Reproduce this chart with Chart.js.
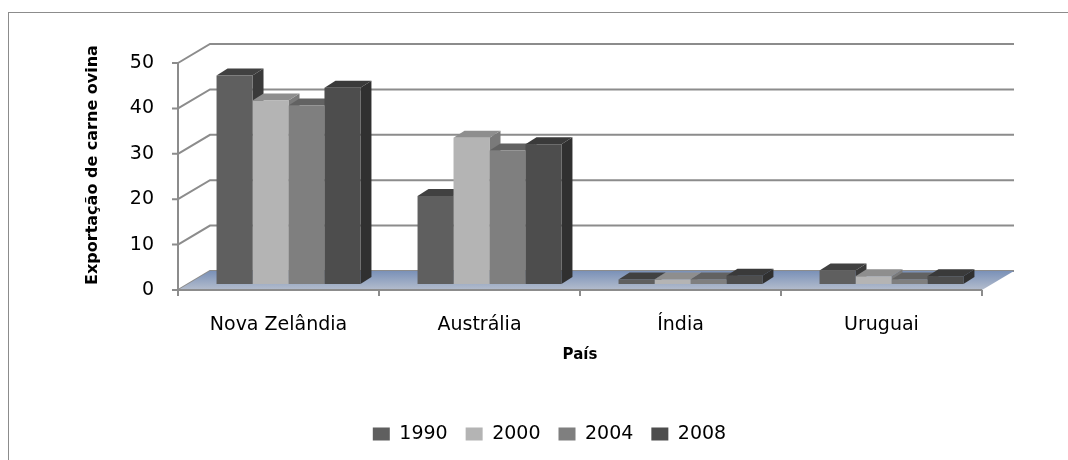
<!DOCTYPE html>
<html>
<head>
<meta charset="utf-8">
<script src="https://cdn.jsdelivr.net/npm/chart.js@4.4.0/dist/chart.umd.min.js"></script>
<style>
    html, body { margin: 0; padding: 0; background: #fff; }
    #wrap { position: relative; width: 1068px; height: 460px; overflow: hidden; }
    #frame { position: absolute; left: 8px; top: 12px; width: 1200px; height: 600px; border: 1px solid #8c8c8c; }
    canvas { position: absolute; left: 0; top: 0; }
</style>
</head>
<body>
<div id="wrap">
    <div id="frame"></div>
    <canvas id="chart" width="1068" height="460"></canvas>
</div>
<script>
// Data
const countries = ['Nova Zelândia', 'Austrália', 'Índia', 'Uruguai'];
const years = ['1990', '2000', '2004', '2008'];
const values1990 = [45.9, 19.4, 1.0, 3.0];
const values2000 = [40.4, 32.2, 1.0, 1.7];
const values2004 = [39.3, 29.4, 1.0, 1.0];
const values2008 = [43.2, 30.8, 1.8, 1.7];
const yTicks = [0, 10, 20, 30, 40, 50];

// Face colours per series: front, top, side
const frontColors = ['#5f5f5f', '#b4b4b4', '#7f7f7f', '#4d4d4d'];
const topColors = ['#414141', '#8e8e8e', '#626262', '#3a3a3a'];
const sideColors = ['#3a3a3a', '#7a7a7a', '#545454', '#303030'];

// Fake 3D offsets (bar plane -> front plane, bar plane -> back wall, bar depth)
const FRONT_DX = -10, FRONT_DY = 6;
const BACK_DX = 22, BACK_DY = -13;
const BAR_DX = 11, BAR_DY = -7;

// Draw walls, floor, axes and the side/top faces of the bars
const threeD = {
    id: 'threeD',
    beforeDatasetsDraw(chart) {
        const { ctx, chartArea, scales: { y } } = chart;
        const fL = chartArea.left + FRONT_DX, fR = chartArea.right + FRONT_DX;
        const bL = chartArea.left + BACK_DX, bR = chartArea.right + BACK_DX;
        const y0 = y.getPixelForValue(0);

        ctx.save();
        // back wall gridlines
        ctx.strokeStyle = '#8c8c8c';
        ctx.lineWidth = 2;
        yTicks.forEach(v => {
            const yb = y.getPixelForValue(v);
            ctx.beginPath();
            ctx.moveTo(fL, yb + FRONT_DY);
            ctx.lineTo(bL, yb + BACK_DY);
            ctx.lineTo(bR, yb + BACK_DY);
            ctx.stroke();
        });

        // floor
        const grad = ctx.createLinearGradient(0, y0 + BACK_DY, 0, y0 + FRONT_DY);
        grad.addColorStop(0, '#7a91b8');
        grad.addColorStop(1, '#b4bdcd');
        ctx.fillStyle = grad;
        ctx.beginPath();
        ctx.moveTo(fL, y0 + FRONT_DY);
        ctx.lineTo(fR, y0 + FRONT_DY);
        ctx.lineTo(bR, y0 + BACK_DY);
        ctx.lineTo(bL, y0 + BACK_DY);
        ctx.closePath();
        ctx.fill();

        // front value axis with ticks
        ctx.strokeStyle = '#8c8c8c';
        ctx.lineWidth = 2;
        ctx.beginPath();
        ctx.moveTo(fL, y.getPixelForValue(50) + FRONT_DY);
        ctx.lineTo(fL, y0 + FRONT_DY);
        yTicks.forEach(v => {
            const yf = y.getPixelForValue(v) + FRONT_DY;
            ctx.moveTo(fL - 6, yf);
            ctx.lineTo(fL, yf);
        });
        // front category axis with ticks
        ctx.moveTo(fL, y0 + FRONT_DY);
        ctx.lineTo(fR, y0 + FRONT_DY);
        for (let i = 0; i <= countries.length; i++) {
            const xf = fL + i * (fR - fL) / countries.length;
            ctx.moveTo(xf, y0 + FRONT_DY);
            ctx.lineTo(xf, y0 + FRONT_DY + 6);
        }
        ctx.stroke();

        // side faces first, then top faces; Chart.js draws the fronts afterwards
        const metas = chart.data.datasets.map((d, i) => chart.getDatasetMeta(i));
        metas.forEach((meta, di) => {
            meta.data.forEach(bar => {
                const r = bar.x + bar.width / 2;
                ctx.fillStyle = sideColors[di];
                ctx.beginPath();
                ctx.moveTo(r, bar.y);
                ctx.lineTo(r + BAR_DX, bar.y + BAR_DY);
                ctx.lineTo(r + BAR_DX, bar.base + BAR_DY);
                ctx.lineTo(r, bar.base);
                ctx.closePath();
                ctx.fill();
            });
        });
        metas.forEach((meta, di) => {
            meta.data.forEach(bar => {
                const l = bar.x - bar.width / 2, r = bar.x + bar.width / 2;
                ctx.fillStyle = topColors[di];
                ctx.beginPath();
                ctx.moveTo(l, bar.y);
                ctx.lineTo(r, bar.y);
                ctx.lineTo(r + BAR_DX, bar.y + BAR_DY);
                ctx.lineTo(l + BAR_DX, bar.y + BAR_DY);
                ctx.closePath();
                ctx.fill();
            });
        });
        ctx.restore();
    },
    afterDraw(chart) {
        // axis titles
        const { ctx, chartArea } = chart;
        ctx.save();
        ctx.fillStyle = '#000';
        ctx.textAlign = 'center';
        ctx.textBaseline = 'middle';
        ctx.font = 'bold 15px "DejaVu Sans"';
        ctx.fillText('País', (chartArea.left + chartArea.right) / 2 + FRONT_DX, 355);
        ctx.translate(93, 165);
        ctx.rotate(-Math.PI / 2);
        ctx.font = 'bold 16px "DejaVu Sans"';
        ctx.fillText('Exportação de carne ovina', 0, 0);
        ctx.restore();
    }
};

Chart.defaults.font.family = '"DejaVu Sans", sans-serif';
Chart.defaults.color = '#000';

const seriesValues = [values1990, values2000, values2004, values2008];

new Chart(document.getElementById('chart').getContext('2d'), {
    type: 'bar',
    data: {
        labels: countries,
        datasets: years.map((yr, i) => ({
            label: yr,
            data: seriesValues[i],
            backgroundColor: frontColors[i],
            borderWidth: 0,
            categoryPercentage: 0.716,
            barPercentage: 1.0
        }))
    },
    options: {
        responsive: false,
        devicePixelRatio: 1,
        animation: false,
        layout: {
            padding: { left: 31, right: 0, top: 57, bottom: 6.5 }
        },
        plugins: {
            legend: {
                position: 'bottom',
                labels: {
                    boxWidth: 17,
                    boxHeight: 13,
                    padding: 18,
                    font: { size: 19 }
                }
            },
            tooltip: { enabled: false }
        },
        scales: {
            x: {
                grid: { display: false, drawTicks: false },
                border: { display: false },
                ticks: {
                    font: { size: 19 },
                    padding: 30,
                    labelOffset: FRONT_DX,
                    maxRotation: 0,
                    autoSkip: false
                },
                afterFit(scale) { scale.height = 122.5; }
            },
            y: {
                position: 'left',
                min: 0,
                max: 50,
                grid: { display: false, drawTicks: false },
                border: { display: false },
                ticks: {
                    stepSize: 10,
                    font: { size: 19 },
                    padding: 34,
                    labelOffset: FRONT_DY
                },
                afterFit(scale) { scale.width = 157; }
            },
            yRight: {
                position: 'right',
                display: true,
                grid: { display: false, drawTicks: false },
                border: { display: false },
                ticks: { display: false },
                afterFit(scale) { scale.width = 76; }
            }
        }
    },
    plugins: [threeD]
});
</script>
</body>
</html>
